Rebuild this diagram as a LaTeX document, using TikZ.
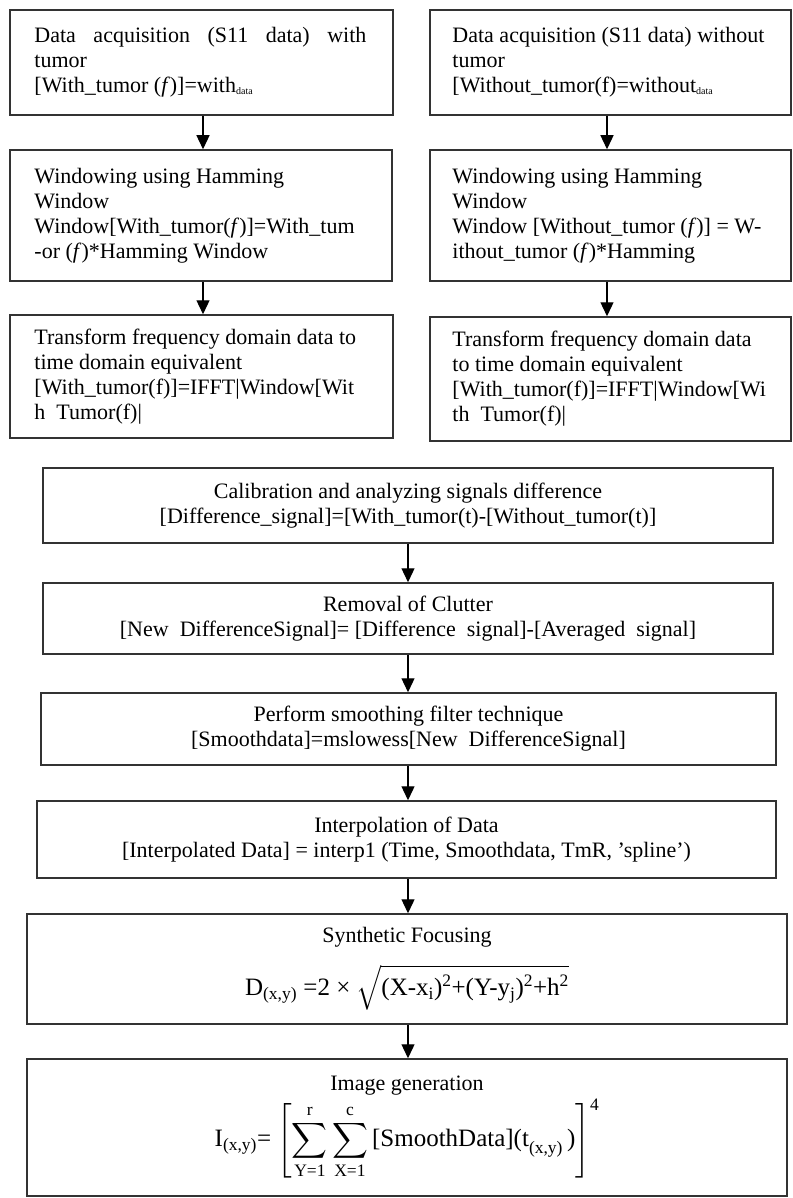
\documentclass[tikz,border=0pt]{standalone}
\usepackage{fontspec}
\setmainfont{Liberation Serif}
\usepackage{amsmath}
\usetikzlibrary{arrows.meta,calc}
\newcommand{\sbdata}[1]{\raisebox{-2pt}{\fontsize{10}{10}\selectfont #1}}
\newcommand{\fbig}{\fontsize{25}{30}\selectfont}
\begin{document}
\begin{tikzpicture}[x=1pt,y=-1pt,
  box/.style={draw=black!80, line width=1.5pt, inner sep=0pt},
  lbl/.style={inner sep=0pt, align=left, font=\fontsize{22}{25}\selectfont, anchor=west},
  ctr/.style={box, align=center, font=\fontsize{22}{25}\selectfont},
  arr/.style={line width=1.3pt, -{Triangle[length=14pt,width=13pt]}}]
\useasboundingbox (0,0) rectangle (792,1198);
% left column
\node[box, minimum width=383pt, minimum height=105pt] (tl) at (201.5,62.5) {};
\node[lbl] (tlt) at ($(tl.west)+(25,0)$) {\makebox[332pt][s]{Data acquisition (S11 data) with}\\tumor\\{}[With\_tumor (\textit{f})]=with\sbdata{data}};
\node[box, minimum width=382pt, minimum height=131pt] (ml) at (201,215.5) {};
\node[lbl] (mlt) at ($(ml.west)+(25,0)$) {Windowing using Hamming\\Window\\Window[With\_tumor(\textit{f})]=With\_tum\\-or (\textit{f})*Hamming Window};
\node[box, minimum width=383pt, minimum height=123pt] (bl) at (201.5,376.5) {};
\node[lbl] (blt) at ($(bl.west)+(25,0)$) {Transform frequency domain data to\\time domain equivalent\\{}[With\_tumor(f)]=IFFT|Window[Wit\\h~~Tumor(f)|};
% right column
\node[box, minimum width=361pt, minimum height=105pt] (tr) at (610.5,62.5) {};
\node[lbl] (trt) at ($(tr.west)+(23,0)$) {Data acquisition (S11 data) without\\tumor\\{}[Without\_tumor(f)=without\sbdata{data}};
\node[box, minimum width=361pt, minimum height=131pt] (mr) at (610.5,215.5) {};
\node[lbl] (mrt) at ($(mr.west)+(23,0)$) {Windowing using Hamming\\Window\\Window [Without\_tumor (\textit{f})] = W-\\ithout\_tumor (\textit{f})*Hamming};
\node[box, minimum width=361pt, minimum height=124pt] (br) at (610.5,379) {};
\node[lbl] (brt) at ($(br.west)+(23,0)$) {Transform frequency domain data\\to time domain equivalent\\{}[With\_tumor(f)]=IFFT|Window[Wi\\th~~Tumor(f)|};
% middle column
\node[ctr, minimum width=730pt, minimum height=75pt] (cal) at (408,505.5) {Calibration and analyzing signals difference\\{}[Difference\_signal]=[With\_tumor(t)-[Without\_tumor(t)]};
\node[ctr, minimum width=730pt, minimum height=71pt] (rem) at (408,618.5) {Removal of Clutter\\{}[New~~DifferenceSignal]= [Difference~~signal]-[Averaged~~signal]};
\node[ctr, minimum width=735pt, minimum height=72pt] (smo) at (408.5,729) {Perform smoothing filter technique\\{}[Smoothdata]=mslowess[New~~DifferenceSignal]};
\node[ctr, minimum width=739pt, minimum height=77pt] (int) at (406.5,839.5) {Interpolation of Data\\{}[Interpolated Data] = interp1 (Time, Smoothdata, TmR, 'spline')};
\node[ctr, minimum width=760pt, minimum height=110pt] (syn) at (407,969) {Synthetic Focusing\\[16pt]{\fbig D\textsubscript{(x,y)} =2 × $\sqrt{\hbox{\fbig(X-x\textsubscript{i})\textsuperscript{2}+(Y-y\textsubscript{j})\textsuperscript{2}+h\textsuperscript{2}}}$}};
\node[ctr, minimum width=760pt, minimum height=137pt] (img) at (407,1127.5) {Image generation\\[2pt]{\fbig I\textsubscript{(x,y)}= $\displaystyle\left[\sum_{\text{Y=1}}^{\text{r}}\sum_{\text{X=1}}^{\text{c}}\text{[SmoothData](t}_{\text{(x,y)}}\text{\,)}\right]^{\text{4}}$}};
% arrows
\draw[arr] (tl.south -| 203,0) -- (ml.north -| 203,0);
\draw[arr] (ml.south -| 203,0) -- (bl.north -| 203,0);
\draw[arr] (tr.south -| 607,0) -- (mr.north -| 607,0);
\draw[arr] (mr.south -| 607,0) -- (br.north -| 607,0);
\coordinate (d1s) at (200,-439);
\coordinate (d1e) at (234,-467);
\coordinate (d2s) at (608,-442);
\coordinate (d2e) at (581,-467);
\draw[arr] (d1s) -- (d1e);
\draw[arr] (d2s) -- (d2e);
\draw[arr] (cal.south -| 408,0) -- (rem.north -| 408,0);
\draw[arr] (rem.south -| 408,0) -- (smo.north -| 408,0);
\draw[arr] (smo.south -| 408,0) -- (int.north -| 408,0);
\draw[arr] (int.south -| 408,0) -- (syn.north -| 408,0);
\draw[arr] (syn.south -| 408,0) -- (img.north -| 408,0);
\end{tikzpicture}
\end{document}
